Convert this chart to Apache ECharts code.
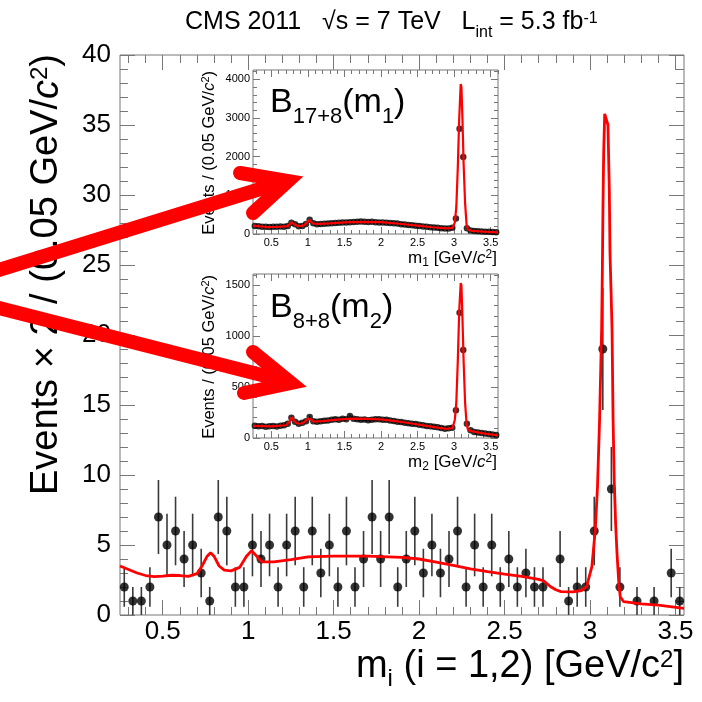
<!DOCTYPE html>
<html>
<head>
<meta charset="utf-8">
<script src="https://cdn.jsdelivr.net/npm/echarts@6/dist/echarts.min.js"></script>
<style>
html, body { margin: 0; padding: 0; background: #fff; }
#chart { width: 702px; height: 702px; }
</style>
</head>
<body>
<div id="chart"></div>
<script>
// ---------------------------------------------------------------
// Dimuon-pair invariant mass spectra, bins of 0.05 GeV/c^2
// ---------------------------------------------------------------
const binCentres = [0.275,0.325,0.375,0.425,0.475,0.525,0.575,0.625,0.675,0.725,
  0.775,0.825,0.875,0.925,0.975,1.025,1.075,1.125,1.175,1.225,
  1.275,1.325,1.375,1.425,1.475,1.525,1.575,1.625,1.675,1.725,
  1.775,1.825,1.875,1.925,1.975,2.025,2.075,2.125,2.175,2.225,
  2.275,2.325,2.375,2.425,2.475,2.525,2.575,2.625,2.675,2.725,
  2.775,2.825,2.875,2.925,2.975,3.025,3.075,3.125,3.175,3.225,
  3.275,3.325,3.375,3.425,3.475,3.525,3.575];

// Signal-region candidates (events x 2), one entry per bin from 0.275
const mainCounts = [2,1,1,2,7,5,6,4,5,3,
  1,7,6,2,2,5,4,5,2,5,
  6,2,6,3,5,2,6,2,4,7,
  4,7,2,4,6,3,5,3,4,6,
  2,5,2,5,2,4,2,3,2,2,
  0,4,1,2,2,6,19,9,2,0,
  1,0,1,0,3,1];

// Combined background model
const mainFitX = [0.25,0.30,0.35,0.40,0.45,0.50,0.55,0.60,0.65,0.70,
  0.73,0.76,0.78,0.80,0.83,0.86,0.90,0.95,0.99,1.02,
  1.05,1.08,1.15,1.25,1.35,1.50,1.70,1.90,2.00,2.10,
  2.20,2.30,2.40,2.50,2.60,2.70,2.73,2.77,2.80,2.83,
  2.90,2.95,2.98,3.011,3.031,3.044,3.056,3.068,3.072,3.076,
  3.080,3.086,3.096,3.105,3.113,3.117,3.123,3.129,3.135,3.142,
  3.150,3.158,3.168,3.177,3.197,3.30,3.40,3.55];
const mainFitY = [3.5,3.25,3.0,2.82,2.74,2.77,2.84,2.82,2.76,2.95,
  3.5,4.2,4.45,4.2,3.5,3.2,3.15,3.4,4.2,4.6,
  4.2,3.8,3.8,3.95,4.15,4.2,4.2,4.12,4.0,3.78,
  3.55,3.3,3.1,2.92,2.76,2.55,2.43,2.02,1.8,1.67,
  1.65,1.75,2.02,3.45,6.1,9.2,13.9,20.4,24.3,29.2,
  33.0,35.8,35.8,35.0,30.4,25.9,23.2,20.4,14.0,9.5,
  6.5,4.4,2.4,1.3,0.95,0.8,0.7,0.48];

// Leading-pair mass m1 (B 17+8 sample)
const m1Counts = [210,200,190,185,180,185,190,195,190,210,
  290,250,200,210,260,370,280,250,260,265,
  270,280,285,290,300,295,305,310,315,320,
  315,310,315,305,300,300,290,285,275,270,
  255,245,235,225,215,205,195,185,175,170,
  160,150,145,140,160,400,2720,1990,150,90,
  80,70,65,60,55,50,45];
const m1FitX = [0.25,0.35,0.45,0.55,0.65,0.72,0.75,0.78,0.81,0.85,
  0.90,0.95,0.99,1.02,1.05,1.08,1.15,1.30,1.50,1.75,
  2.00,2.25,2.50,2.70,2.90,2.98,3.01,3.03,3.05,3.07,
  3.09,3.10,3.115,3.13,3.15,3.17,3.19,3.25,3.40,3.60];
const m1FitY = [215,195,180,183,190,205,250,300,260,215,
  205,230,300,360,310,265,260,275,300,315,
  305,265,215,175,145,160,300,700,1700,3000,
  3880,3800,2900,1800,800,250,110,80,60,40];

// Second pair mass m2 (B 8+8 sample)
const m2Counts = [120,115,118,110,115,118,112,120,125,140,
  200,160,140,150,165,205,165,160,165,170,
  172,178,185,180,188,185,215,190,185,180,
  182,175,180,183,185,180,178,172,168,160,
  158,150,145,140,138,130,125,118,115,110,
  105,98,90,95,100,272,1230,863,140,75,
  60,55,50,45,40,35,30];
const m2FitX = [0.25,0.50,0.70,0.75,0.78,0.81,0.85,0.90,0.95,1.00,
  1.02,1.05,1.08,1.20,1.40,1.60,1.80,2.00,2.20,2.40,
  2.60,2.80,2.90,2.98,3.01,3.03,3.05,3.07,3.09,3.10,
  3.115,3.13,3.15,3.17,3.19,3.25,3.40,3.60];
const m2FitY = [120,115,125,160,205,170,145,140,155,190,
  205,180,160,165,180,190,188,182,165,145,
  122,100,90,100,180,350,750,1250,1520,1500,
  1150,750,350,140,80,65,45,25];

// Tick labels
const massTicks = [0.5,1,1.5,2,2.5,3,3.5];
const mainYTicks = [0,5,10,15,20,25,30,35,40];
const m1YTicks = [0,1000,2000,3000,4000];
const m2YTicks = [0,500,1000,1500];

// ---------------------------------------------------------------
const FONT = '"Liberation Sans", Arial, Helvetica, sans-serif';
const INK = '#000';
const FRAME = '#777';
const RED = '#ff0000';

function minorTicks(lo, hi, step, majorStep) {
  const out = [];
  const n0 = Math.ceil(lo / step - 1e-9), n1 = Math.floor(hi / step + 1e-9);
  for (let n = n0; n <= n1; n++) {
    const v = +(n * step).toFixed(6);
    const r = v / majorStep;
    if (Math.abs(r - Math.round(r)) > 1e-6) out.push(v);
  }
  return out;
}

function tickAxis(grid, pos, min, max, ticks, len, label) {
  return {
    type: 'value', gridIndex: grid, position: pos, min: min, max: max,
    axisLine: { show: false, onZero: false },
    axisTick: { show: true, inside: true, length: len, customValues: ticks,
                lineStyle: { color: FRAME, width: 1 } },
    axisLabel: label
      ? Object.assign({ show: true, customValues: ticks, color: INK, fontFamily: FONT,
                        formatter: function (v) { return String(v); } }, label)
      : { show: false },
    splitLine: { show: false },
    minorTick: { show: false }
  };
}

// labelled major, minor, mirrored major, mirrored minor
function axisSet(grid, sides, min, max, major, minorStep, majorStep, majLen, minLen, label) {
  const minor = minorTicks(min, max, minorStep, majorStep);
  return [
    tickAxis(grid, sides[0], min, max, major, majLen, label),
    tickAxis(grid, sides[0], min, max, minor, minLen, null),
    tickAxis(grid, sides[1], min, max, major, majLen, null),
    tickAxis(grid, sides[1], min, max, minor, minLen, null)
  ];
}

const xAxes = [].concat(
  axisSet(0, ['bottom', 'top'], 0.25, 3.55, massTicks, 0.1, 0.5, 15, 8, { fontSize: 26, margin: 4 }),
  axisSet(1, ['bottom', 'top'], 0.25, 3.6, massTicks, 0.1, 0.5, 7, 4, { fontSize: 11, margin: 3 }),
  axisSet(2, ['bottom', 'top'], 0.25, 3.6, massTicks, 0.1, 0.5, 7, 4, { fontSize: 11, margin: 3 })
);
const yAxes = [].concat(
  axisSet(0, ['left', 'right'], 0, 40, mainYTicks, 1, 5, 15, 8, { fontSize: 26, margin: 9 }),
  axisSet(1, ['left', 'right'], 0, 4240, m1YTicks, 200, 1000, 7, 4, { fontSize: 11, margin: 3 }),
  axisSet(2, ['left', 'right'], 0, 1610, m2YTicks, 100, 500, 7, 4, { fontSize: 11, margin: 3 })
);

function pointsOf(xs, ys) {
  const out = [];
  for (let i = 0; i < ys.length; i++) if (ys[i] > 0) out.push([xs[i], ys[i]]);
  return out;
}
function errorsOf(xs, ys) {
  const out = [];
  for (let i = 0; i < ys.length; i++) {
    if (ys[i] <= 0) continue;
    const e = Math.sqrt(ys[i]);
    out.push([xs[i], ys[i] - e, ys[i] + e]);
  }
  return out;
}
function curveOf(xs, ys) { return xs.map((x, i) => [x, ys[i]]); }

function errorBars(axisIdx, data, width, color) {
  return {
    type: 'custom', xAxisIndex: axisIdx, yAxisIndex: axisIdx, data: data, z: 3,
    renderItem: function (params, api) {
      const a = api.coord([api.value(0), api.value(1)]);
      const b = api.coord([api.value(0), api.value(2)]);
      return { type: 'line', shape: { x1: a[0], y1: a[1], x2: b[0], y2: b[1] },
               style: { stroke: color, lineWidth: width } };
    }
  };
}
function dots(axisIdx, data, size) {
  return { type: 'scatter', xAxisIndex: axisIdx, yAxisIndex: axisIdx, data: data,
           symbol: 'circle', symbolSize: size, itemStyle: { color: INK }, z: 4 };
}
function fitLine(axisIdx, data, width) {
  return { type: 'line', xAxisIndex: axisIdx, yAxisIndex: axisIdx, data: data,
           showSymbol: false, smooth: false, z: 5,
           lineStyle: { color: RED, width: width } };
}

// rich-text styles with raised / lowered pieces
function richSet(size, subSize, subDrop, supSize, supLift) {
  return {
    t:   { fontSize: size, fontFamily: FONT, color: INK },
    it:  { fontSize: size, fontFamily: FONT, color: INK, fontStyle: 'italic' },
    sub: { fontSize: subSize, fontFamily: FONT, color: INK, padding: [2 * subDrop, 0, 0, 0] },
    sup: { fontSize: supSize, fontFamily: FONT, color: INK, padding: [0, 0, 2 * supLift, 0] }
  };
}

const texts = [
  { type: 'text', x: 185, y: 22, z: 50,
    style: { text: '{t|CMS 2011   √s = 7 TeV   L}{sub|int}{t| = 5.3 fb}{sup|-1}',
             rich: richSet(25, 16, 11, 16, 3), align: 'left', verticalAlign: 'middle' } },
  { type: 'text', x: 684, y: 667, z: 50,
    style: { text: '{t|m}{sub|i}{t| (i = 1,2) [GeV/c}{sup|2}{t|]}',
             rich: richSet(38, 24, 12, 24, 7), align: 'right', verticalAlign: 'middle' } },
  { type: 'text', x: 47, y: 54, z: 50, rotation: Math.PI / 2,
    style: { text: '{t|Events × 2 / (0.05 GeV/}{it|c}{sup|2}{t|)}',
             rich: richSet(38, 24, 12, 24, 7), align: 'right', verticalAlign: 'middle' } },
  // inset 1 captions
  { type: 'text', x: 270, y: 103, z: 50,
    style: { text: '{t|B}{sub|17+8}{t|(m}{sub|1}{t|)}',
             rich: richSet(34, 22, 14, 22, 7), align: 'left', verticalAlign: 'middle' } },
  { type: 'text', x: 497, y: 258, z: 50,
    style: { text: '{t|m}{sub|1}{t| [GeV/}{it|c}{sup|2}{t|]}',
             rich: richSet(17, 12, 5, 12, 3), align: 'right', verticalAlign: 'middle' } },
  { type: 'text', x: 209, y: 71, z: 50, rotation: Math.PI / 2,
    style: { text: '{t|Events / (0.05 GeV/}{it|c}{sup|2}{t|)}',
             rich: richSet(16.5, 11, 4, 11, 3), align: 'right', verticalAlign: 'middle' } },
  // inset 2 captions
  { type: 'text', x: 270, y: 308, z: 50,
    style: { text: '{t|B}{sub|8+8}{t|(m}{sub|2}{t|)}',
             rich: richSet(34, 22, 14, 22, 7), align: 'left', verticalAlign: 'middle' } },
  { type: 'text', x: 497, y: 462, z: 50,
    style: { text: '{t|m}{sub|2}{t| [GeV/}{it|c}{sup|2}{t|]}',
             rich: richSet(17, 12, 5, 12, 3), align: 'right', verticalAlign: 'middle' } },
  { type: 'text', x: 209, y: 275, z: 50, rotation: Math.PI / 2,
    style: { text: '{t|Events / (0.05 GeV/}{it|c}{sup|2}{t|)}',
             rich: richSet(16.5, 11, 4, 11, 3), align: 'right', verticalAlign: 'middle' } }
];

// pointer arrows from the spectrum towards the two insets
const arrowStyle = { stroke: RED, lineWidth: 14, fill: null, lineJoin: 'miter', lineCap: 'round' };
const arrows = [
  { type: 'polyline', z: 100, shape: { points: [[-40, 282], [286, 181]] }, style: Object.assign({}, arrowStyle, { lineCap: 'butt' }) },
  { type: 'polyline', z: 100, shape: { points: [[240, 173], [288, 181], [253, 213]] }, style: arrowStyle },
  { type: 'polyline', z: 100, shape: { points: [[-40, 298], [289, 382]] }, style: Object.assign({}, arrowStyle, { lineCap: 'butt' }) },
  { type: 'polyline', z: 100, shape: { points: [[253, 352], [291, 383], [244, 393]] }, style: arrowStyle }
];

const option = {
  animation: false,
  backgroundColor: '#fff',
  grid: [
    { left: 120, top: 55, width: 564, height: 560, show: true, borderColor: FRAME, borderWidth: 1, backgroundColor: 'transparent' },
    { left: 253, top: 70, width: 245, height: 164, show: true, borderColor: FRAME, borderWidth: 1, backgroundColor: 'transparent' },
    { left: 253, top: 274, width: 245, height: 164, show: true, borderColor: FRAME, borderWidth: 1, backgroundColor: 'transparent' }
  ],
  xAxis: xAxes,
  yAxis: yAxes,
  series: [
    errorBars(0, errorsOf(binCentres, mainCounts), 1.6, '#3a3a3a'),
    dots(0, pointsOf(binCentres, mainCounts), 9),
    fitLine(0, curveOf(mainFitX, mainFitY), 2.8),

    errorBars(4, errorsOf(binCentres, m1Counts), 1, '#000'),
    dots(4, pointsOf(binCentres, m1Counts), 6.5),
    fitLine(4, curveOf(m1FitX, m1FitY), 2.2),

    errorBars(8, errorsOf(binCentres, m2Counts), 1, '#000'),
    dots(8, pointsOf(binCentres, m2Counts), 6.5),
    fitLine(8, curveOf(m2FitX, m2FitY), 2.2)
  ],
  graphic: texts.concat(arrows)
};

const chart = echarts.init(document.getElementById('chart'), null, { renderer: 'canvas' });
chart.setOption(option);
</script>
</body>
</html>
